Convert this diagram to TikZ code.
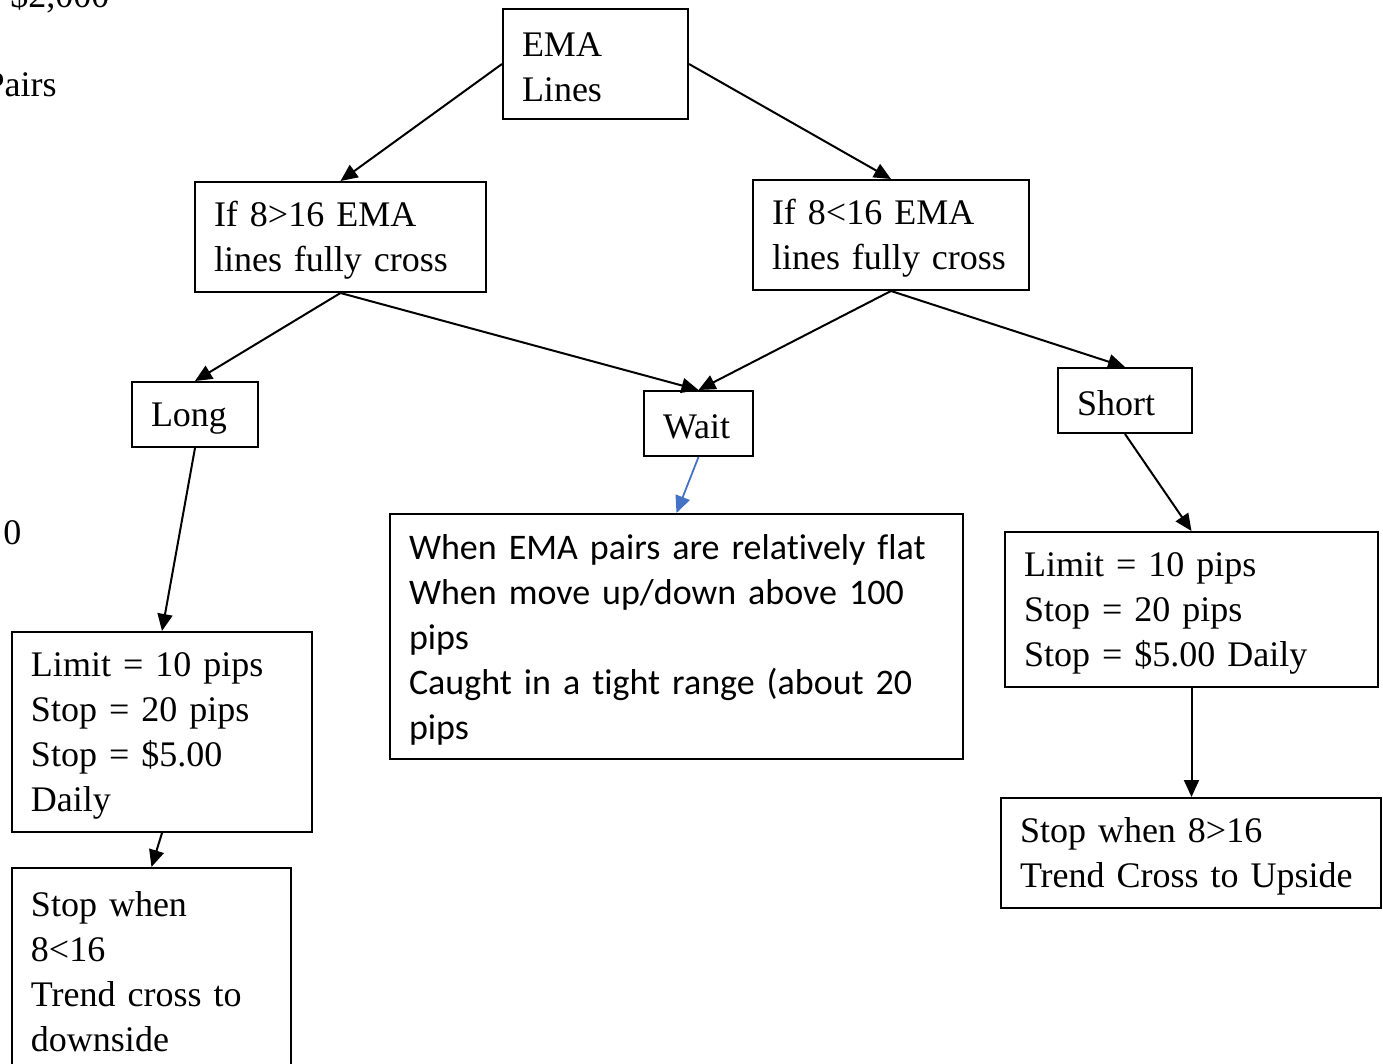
\documentclass[tikz,border=0pt]{standalone}
\usepackage{fontspec}
\setmainfont{Liberation Serif}
\newfontfamily\calfont[Ligatures=NoCommon]{Carlito}
\usepackage{tikz}
\usetikzlibrary{arrows.meta}
\definecolor{arrblue}{HTML}{4472C4}

\begin{document}
\begin{tikzpicture}[x=0.5pt,y=-0.5pt,
  box/.style={draw, line width=1pt, anchor=north west, align=left,
    inner xsep=9.5pt, inner ysep=0pt, font=\fontsize{18}{22.5}\selectfont,
    execute at begin node={\rule{0pt}{15.5pt}}},
  arr/.style={line width=1pt, -{Triangle[length=8.5pt,width=7.5pt]}},
  bluearr/.style={arr, draw=arrblue, fill=arrblue, line width=0.9pt},
  cut/.style={inner sep=0pt, font=\fontsize{18}{22.5}\selectfont}]
  \useasboundingbox (0,0) rectangle (1383,1064);
  % bits of page text cut at the edge
  \node[cut, anchor=base west] (money) at (10,8) {\$2,000};
  \node[cut, anchor=base east] (pairs) at (57,97) {Pairs};
  \node[cut, anchor=base west] (zero) at (3,545) {0};
  % boxes
  \node[box, text width=73.5pt, minimum height=55pt] (ema) at (502,8) {EMA\\Lines};
  \node[box, text width=126.5pt, minimum height=55pt] (up) at (194,181) {If 8>16 EMA\\lines fully cross};
  \node[box, text width=119pt, minimum height=55pt] (dn) at (752,179) {If 8<16 EMA\\lines fully cross};
  \node[box, text width=44pt, minimum height=32.5pt] (long) at (131,381) {Long};
  \node[box, text width=35.5pt, minimum height=32.5pt] (wait) at (643,390) {Wait};
  \node[box, text width=48pt, minimum height=32.5pt] (short) at (1057,367) {Short};
  \node[box, text width=267.5pt, minimum height=122.5pt, font=\calfont\fontsize{18}{22.5}\selectfont] (flat) at (389,513)
    {When EMA pairs are relatively flat\\When move up/down above 100\\pips\\Caught in a tight range (about 20\\pips};
  \node[box, text width=131pt, minimum height=100pt] (llim) at (11,631) {Limit = 10 pips\\Stop = 20 pips\\Stop = \$5.00\\Daily};
  \node[box, text width=120.5pt, minimum height=101pt] (lstop) at (11,867) {Stop when\\8<16\\Trend cross to\\downside};
  \node[box, text width=167.5pt, minimum height=77.5pt] (rlim) at (1004,531) {Limit = 10 pips\\Stop = 20 pips\\Stop = \$5.00 Daily};
  \node[box, text width=171pt, minimum height=55pt] (rstop) at (1000,797) {Stop when 8>16\\Trend Cross to Upside};
  % connectors
  \draw[arr] (ema.west) -- (up.north);
  \draw[arr] (ema.east) -- (dn.north);
  \draw[arr] (up.south) -- (long.north);
  \draw[arr] (up.south) -- (wait.north);
  \draw[arr] (dn.south) -- (wait.north);
  \draw[arr] (dn.south) -- (short.north);
  \draw[bluearr] (wait.south) -- (flat.north);
  \draw[arr] (long.south) -- (llim.north);
  \draw[arr] (llim.south) -- (lstop.north);
  \draw[arr] (short.south) -- (rlim.north);
  \draw[arr] (rlim.south) -- (rlim.south |- rstop.north);
\end{tikzpicture}
\end{document}
